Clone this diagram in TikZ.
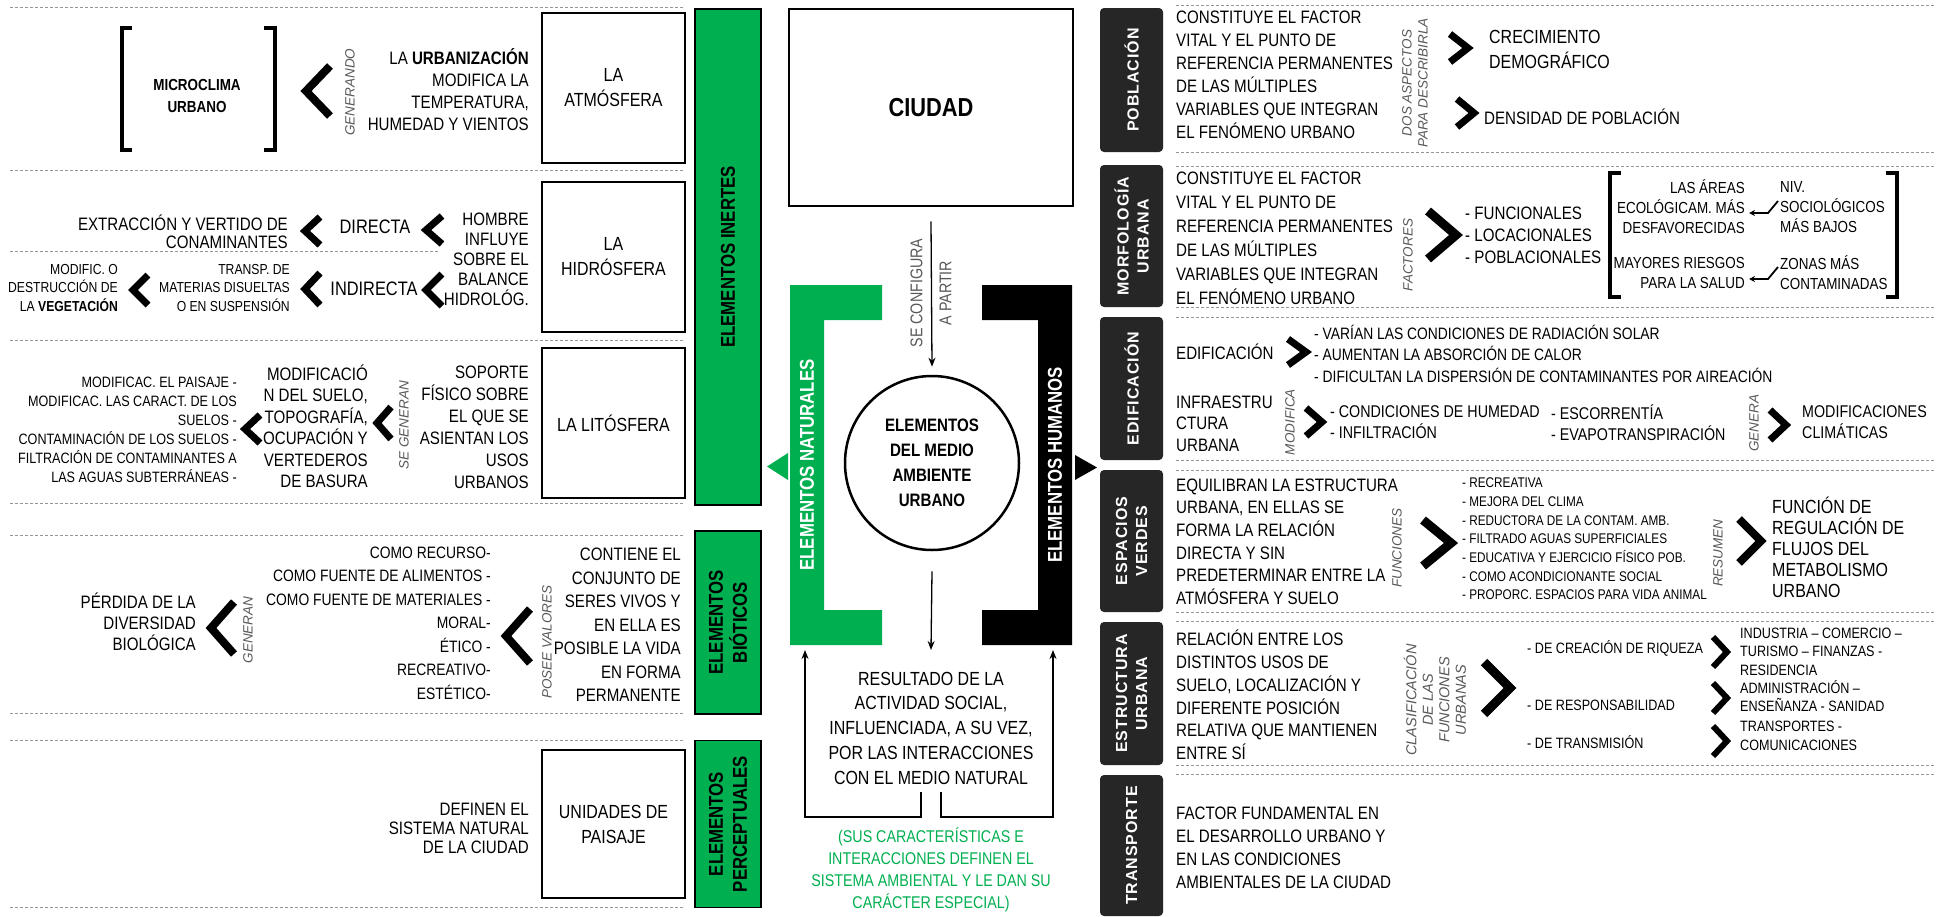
\documentclass[tikz,border=0pt]{standalone}
\usepackage{fontspec}
\setmainfont{Liberation Sans}[FakeStretch=0.84]
\newfontfamily\labfont{Liberation Sans}
\newfontfamily\barfont{Liberation Sans}[LetterSpace=6]
\usetikzlibrary{arrows.meta}
\definecolor{egreen}{RGB}{0,176,80}
\definecolor{ebar}{RGB}{38,38,38}
\definecolor{lgray}{RGB}{89,89,89}
\definecolor{dgray}{RGB}{150,150,150}
\newcommand{\fsz}[2]{\fontsize{#1}{#2}\selectfont}
\newcommand{\chevL}[5]{\draw[chev, line width=#5pt] ({#1+#3},{#2-#4}) -- (#1,#2) -- ({#1+#3},{#2+#4});}
\newcommand{\chevR}[5]{\draw[chev, line width=#5pt] ({#1-#3},{#2-#4}) -- (#1,#2) -- ({#1-#3},{#2+#4});}
\begin{document}
\begin{tikzpicture}[x=1pt,y=-1pt,
  chev/.style={line join=miter, line cap=butt},
  dline/.style={draw=dgray, dash pattern=on 3pt off 2pt, line width=1pt},
  brk/.style={line width=4pt, line join=miter},
  ebox/.style={draw=black, line width=2.5pt, fill=white, inner sep=0pt, align=center, font=\fsz{19}{25}},
  gbar/.style={rotate=90, draw=black, line width=1.5pt, fill=egreen, inner sep=0pt, align=center, font=\bfseries\fsz{20}{24}},
  bbar/.style={rotate=90, fill=ebar, rounded corners=4pt, text=white, inner sep=0pt, align=center, minimum height=63pt, font=\barfont\bfseries\fsz{16}{20}},
  lab/.style={rotate=90, font=\labfont\itshape\fsz{13.5}{16}, text=lgray, align=center, inner sep=0pt},
  txR/.style={inner sep=0pt, anchor=east, align=right},
  txL/.style={inner sep=0pt, anchor=west, align=left},
  txC/.style={inner sep=0pt, align=center},
  conn/.style={line width=1.3pt, -{Stealth[length=9pt,width=7pt]}},
  zz/.style={line width=1.8pt, -{Stealth[length=6pt,width=6pt]}}]
\useasboundingbox (0,0) rectangle (1936,916);
\fill[white] (0,0) rectangle (1936,916);

% dashed separators
\foreach \yy in {7,170,340,503,535,713,740,907} \draw[dline] (10,\yy) -- (683,\yy);
\draw[dline] (10,251) -- (440,251);
\foreach \yy in {5,152,166,307,317,460,470,612,621,765,774} \draw[dline] (1176,\yy) -- (1936,\yy);

% ---------- LEFT: atmosfera
\draw[brk] (132,28) -- (122,28) -- (122,150) -- (132,150);
\draw[brk] (264,28) -- (275,28) -- (275,150) -- (264,150);
\node[txC, font=\bfseries\fsz{16}{22}] (micro) at (197,96) {MICROCLIMA\\URBANO};
\chevL{306}{91}{24}{25}{8}
\node[lab] (gen1) at (350,92) {GENERANDO};
\node[txR, font=\fsz{18}{22}] (urb) at (529,90) {LA \textbf{URBANIZACIÓN}\\MODIFICA LA\\TEMPERATURA,\\HUMEDAD Y VIENTOS};
\node[ebox, minimum width=143pt, minimum height=150pt] (atm) at (613.5,88) {LA\\ATMÓSFERA};

% ---------- hidrosfera
\node[ebox, minimum width=143pt, minimum height=150pt] (hid) at (613.5,257) {LA\\HIDRÓSFERA};
\node[txR, font=\fsz{18}{20}] (hom) at (529,259) {HOMBRE\\INFLUYE\\SOBRE EL\\BALANCE\\HIDROLÓG.};
\chevL{426}{230}{16}{14}{7}
\node[txC, font=\fsz{19.5}{22}] (dir) at (375,227) {DIRECTA};
\chevL{305}{231}{15}{14}{7}
\node[txR, font=\fsz{18}{18}] (ext) at (288,231.5) {EXTRACCIÓN Y VERTIDO DE\\CONAMINANTES};
\chevL{426}{290}{16}{16}{7}
\node[txC, font=\fsz{19.5}{22}] (ind) at (374,289) {INDIRECTA};
\chevL{305}{289}{15}{16}{7}
\node[txR, font=\fsz{14.5}{18.5}] (tra) at (290,288) {TRANSP. DE\\MATERIAS DISUELTAS\\O EN SUSPENSIÓN};
\chevL{133}{290}{15}{15}{7}
\node[txR, font=\fsz{14.5}{18.5}] (veg) at (118,288) {MODIFIC. O\\DESTRUCCIÓN DE\\LA \textbf{VEGETACIÓN}};

% ---------- litosfera
\node[ebox, minimum width=143pt, minimum height=150pt] (lit) at (613.5,423) {LA LITÓSFERA};
\node[txR, font=\fsz{18}{22}] (sop) at (529,427.5) {SOPORTE\\FÍSICO SOBRE\\EL QUE SE\\ASIENTAN LOS\\USOS\\URBANOS};
\node[lab] (segen) at (404,425) {SE GENERAN};
\chevL{377}{423}{14}{16}{7}
\node[txR, font=\fsz{18}{21.5}] (modsu) at (368,426.5) {MODIFICACIÓ\\N DEL SUELO,\\TOPOGRAFÍA,\\OCUPACIÓN Y\\VERTEDEROS\\DE BASURA};
\chevL{245}{429}{15}{14}{7}
\node[txR, font=\fsz{15}{19}] (paisa) at (237,430) {MODIFICAC. EL PAISAJE -\\MODIFICAC. LAS CARACT. DE LOS\\SUELOS -\\CONTAMINACIÓN DE LOS SUELOS -\\FILTRACIÓN DE CONTAMINANTES A\\LAS AGUAS SUBTERRÁNEAS -};

% ---------- bioticos
\node[txR, font=\fsz{18}{23.5}] (cont) at (681,625) {CONTIENE EL\\CONJUNTO DE\\SERES VIVOS Y\\EN ELLA ES\\POSIBLE LA VIDA\\EN FORMA\\PERMANENTE};
\node[lab] (posee) at (547,642) {POSEE VALORES};
\chevL{506}{636}{24}{27}{8}
\node[txR, font=\fsz{16.5}{23.5}] (valo) at (491,623) {COMO RECURSO-\\COMO FUENTE DE ALIMENTOS -\\COMO FUENTE DE MATERIALES -\\MORAL-\\ÉTICO -\\RECREATIVO-\\ESTÉTICO-};
\node[lab] (gen2) at (248,630) {GENERAN};
\chevL{211}{628}{23}{26}{8}
\node[txR, font=\fsz{18}{21}] (perd) at (196,622) {PÉRDIDA DE LA\\DIVERSIDAD\\BIOLÓGICA};

% ---------- perceptuales
\node[ebox, minimum width=143pt, minimum height=148pt] (unid) at (613.5,824) {UNIDADES DE\\PAISAJE};
\node[txR, font=\fsz{18}{19}] (def) at (529,828) {DEFINEN EL\\SISTEMA NATURAL\\DE LA CIUDAD};

% ---------- green bars
\node[gbar, minimum width=496pt, minimum height=66pt] (inert) at (728,257) {ELEMENTOS INERTES};
\node[gbar, minimum width=183pt, minimum height=66pt] (biot) at (728,622.5) {ELEMENTOS\\BIÓTICOS};
\node[gbar, minimum width=167pt, minimum height=66pt] (perc) at (728,824) {ELEMENTOS\\PERCEPTUALES};

% ---------- CENTER
\node[ebox, minimum width=284pt, minimum height=197pt, font=\bfseries\fsz{26}{30}] (ciudad) at (931,107.5) {CIUDAD};
\node[txC, rotate=90, text=lgray, font=\fsz{17}{29}] (secon) at (931,293) {SE CONFIGURA\\A PARTIR};
\node[circle, draw, line width=2.5pt, minimum size=174pt, inner sep=0pt, font=\bfseries\fsz{18}{25}, align=center] (circ) at (932,463) {ELEMENTOS\\DEL MEDIO\\AMBIENTE\\URBANO};
\draw[conn] ([yshift=-14pt]ciudad.south) -- ([yshift=8pt]circ.north);

\fill[egreen] (790,285) -- (882,285) -- (882,320) -- (824,320) -- (824,610) -- (882,610) -- (882,645) -- (790,645) -- cycle;
\node[rotate=90, text=white, font=\bfseries\fsz{20}{24}, inner sep=0pt] (nat) at (807,465) {ELEMENTOS NATURALES};
\fill[egreen] (788,453) -- (767,466.5) -- (788,480) -- cycle;
\fill[black] (982,285) -- (1072,285) -- (1072,645) -- (982,645) -- (982,610) -- (1038,610) -- (1038,320) -- (982,320) -- cycle;
\node[rotate=90, text=white, font=\bfseries\fsz{20}{24}, inner sep=0pt] (humn) at (1055,465) {ELEMENTOS HUMANOS};
\fill[black] (1075,455) -- (1097,467.5) -- (1075,480) -- cycle;

\node[txC, font=\fsz{19}{24.75}] (res) at (931,728) {RESULTADO DE LA\\ACTIVIDAD SOCIAL,\\INFLUENCIADA, A SU VEZ,\\POR LAS INTERACCIONES\\CON EL MEDIO NATURAL};
\coordinate (resin) at (931,650);
\draw[conn] ([yshift=-20pt]circ.south) -- (resin);
\coordinate (rl) at (921,792); \coordinate (rr) at (941,792);
\coordinate (nb) at (805,650); \coordinate (hb) at (1053,650);
\draw[conn] (rl) -- (921,817) -| (nb);
\draw[conn] (rr) -- (941,817) -| (hb);
\node[txC, text=egreen, font=\fsz{17}{22}] (sus) at (931,870) {(SUS CARACTERÍSTICAS E\\INTERACCIONES DEFINEN EL\\SISTEMA AMBIENTAL Y LE DAN SU\\CARÁCTER ESPECIAL)};

% ---------- RIGHT bars
\node[bbar, minimum width=144pt] (pob) at (1131.5,80) {POBLACIÓN};
\node[bbar, minimum width=142pt] (mor) at (1131.5,236) {MORFOLOGÍA\\URBANA};
\node[bbar, minimum width=143pt] (edi) at (1131.5,388.5) {EDIFICACIÓN};
\node[bbar, minimum width=142pt] (esp) at (1131.5,541) {ESPACIOS\\VERDES};
\node[bbar, minimum width=143pt] (est) at (1131.5,693.5) {ESTRUCTURA\\URBANA};
\node[bbar, minimum width=141pt] (trp) at (1131.5,845.5) {TRANSPORTE};

% R1 poblacion
\node[txL, font=\fsz{18}{23}] (pobt) at (1176,74.5) {CONSTITUYE EL FACTOR\\VITAL Y EL PUNTO DE\\REFERENCIA PERMANENTES\\DE LAS MÚLTIPLES\\VARIABLES QUE INTEGRAN\\EL FENÓMENO URBANO};
\node[lab] (dos) at (1415,83) {DOS ASPECTOS\\PARA DESCRIBIRLA};
\chevR{1468}{48}{18}{14}{7}
\node[txL, font=\fsz{19}{25}] (crec) at (1489,49.5) {CRECIMIENTO\\DEMOGRÁFICO};
\chevR{1474}{113}{17}{14}{7}
\node[txL, font=\fsz{18}{25}] (dens) at (1484,117) {DENSIDAD DE POBLACIÓN};

% R2 morfologia
\node[txL, font=\fsz{18}{24}] (mort) at (1176,238) {CONSTITUYE EL FACTOR\\VITAL Y EL PUNTO DE\\REFERENCIA PERMANENTES\\DE LAS MÚLTIPLES\\VARIABLES QUE INTEGRAN\\EL FENÓMENO URBANO};
\node[lab] (fac) at (1408,255) {FACTORES};
\chevR{1456}{235}{28}{24}{9}
\node[txL, font=\fsz{18}{22}] (facl) at (1465,235) {- FUNCIONALES\\- LOCACIONALES\\- POBLACIONALES};
\draw[brk] (1621,173) -- (1610,173) -- (1610,297) -- (1621,297);
\draw[brk] (1886,173) -- (1897,173) -- (1897,297) -- (1886,297);
\node[txR, font=\fsz{16}{20}] (are) at (1745,207) {LAS ÁREAS\\ECOLÓGICAM. MÁS\\DESFAVORECIDAS};
\node[txL, font=\fsz{16}{20}] (niv) at (1780,207) {NIV.\\SOCIOLÓGICOS\\MÁS BAJOS};
\draw[zz] ([shift={(-2pt,6pt)}]niv.west) -- ([shift={(-12pt,-6pt)}]niv.west) -- ([shift={(4pt,-6pt)}]are.east);
\node[txR, font=\fsz{16}{20}] (may) at (1745,273) {MAYORES RIESGOS\\PARA LA SALUD};
\node[txL, font=\fsz{16}{20}] (zon) at (1780,273) {ZONAS MÁS\\CONTAMINADAS};
\draw[zz] ([shift={(-2pt,6pt)}]zon.west) -- ([shift={(-12pt,-6pt)}]zon.west) -- ([shift={(4pt,-6pt)}]may.east);

% R3 edificacion
\node[txL, font=\fsz{18}{22}] (edit) at (1176,352) {EDIFICACIÓN};
\chevR{1306}{352}{18}{13}{7}
\node[txL, font=\fsz{16.5}{21.5}] (edil) at (1314,353.5) {- VARÍAN LAS CONDICIONES DE RADIACIÓN SOLAR\\- AUMENTAN LA ABSORCIÓN DE CALOR\\- DIFICULTAN LA DISPERSIÓN DE CONTAMINANTES POR AIREACIÓN};
\node[txL, font=\fsz{18}{21.5}] (inf) at (1176,423.5) {INFRAESTRU\\CTURA\\URBANA};
\node[lab] (modi) at (1290,422) {MODIFICA};
\chevR{1322}{422}{16}{14}{7}
\node[txL, font=\fsz{17}{21}] (humed) at (1330,422.5) {- CONDICIONES DE HUMEDAD\\- INFILTRACIÓN};
\node[txL, font=\fsz{17}{21}] (esc) at (1551,423) {- ESCORRENTÍA\\- EVAPOTRANSPIRACIÓN};
\node[lab] (gen3) at (1754,423) {GENERA};
\chevR{1786}{425}{16}{15}{7}
\node[txL, font=\fsz{17}{21}] (modc) at (1802,422.5) {MODIFICACIONES\\CLIMÁTICAS};

% R4 espacios verdes
\node[txL, font=\fsz{18}{22.6}] (espt) at (1176,541.5) {EQUILIBRAN LA ESTRUCTURA\\URBANA, EN ELLAS SE\\FORMA LA RELACIÓN\\DIRECTA Y SIN\\PREDETERMINAR ENTRE LA\\ATMÓSFERA Y SUELO};
\node[lab] (fun) at (1397,548) {FUNCIONES};
\chevR{1451}{543}{28}{23}{9}
\node[txL, font=\fsz{14}{18.7}] (funl) at (1462,539) {- RECREATIVA\\- MEJORA DEL CLIMA\\- REDUCTORA DE LA CONTAM. AMB.\\- FILTRADO AGUAS SUPERFICIALES\\- EDUCATIVA Y EJERCICIO FÍSICO POB.\\- COMO ACONDICIONANTE SOCIAL\\- PROPORC. ESPACIOS PARA VIDA ANIMAL};
\node[lab] (resu) at (1718,553) {RESUMEN};
\chevR{1761}{541}{22}{22}{8}
\node[txL, font=\fsz{19}{21}] (func) at (1772,547.5) {FUNCIÓN DE\\REGULACIÓN DE\\FLUJOS DEL\\METABOLISMO\\URBANO};

% R5 estructura urbana
\node[txL, font=\fsz{18}{22.8}] (estt) at (1176,695) {RELACIÓN ENTRE LOS\\DISTINTOS USOS DE\\SUELO, LOCALIZACIÓN Y\\DIFERENTE POSICIÓN\\RELATIVA QUE MANTIENEN\\ENTRE SÍ};
\node[lab, font=\labfont\itshape\fsz{14.5}{16.5}] (clas) at (1435,700) {CLASIFICACIÓN\\DE LAS\\FUNCIONES\\URBANAS};
\chevR{1510}{688}{26}{26}{9}
\node[txL, font=\fsz{15}{18}] (cre) at (1527,648) {- DE CREACIÓN DE RIQUEZA};
\node[txL, font=\fsz{15}{18}] (resp) at (1527,705) {- DE RESPONSABILIDAD};
\node[txL, font=\fsz{15}{18}] (trans) at (1527,742) {- DE TRANSMISIÓN};
\chevR{1727}{652}{14}{15}{6}
\chevR{1727}{698}{14}{15}{6}
\chevR{1727}{741}{14}{15}{6}
\node[txL, font=\fsz{15}{18.5}] (indu) at (1740,651.5) {INDUSTRIA – COMERCIO –\\TURISMO – FINANZAS -\\RESIDENCIA};
\node[txL, font=\fsz{15}{18.5}] (adm) at (1740,696) {ADMINISTRACIÓN –\\ENSEÑANZA - SANIDAD};
\node[txL, font=\fsz{15}{18.5}] (tra2) at (1740,736) {TRANSPORTES -\\COMUNICACIONES};

% R6 transporte
\node[txL, font=\fsz{18}{23}] (trpt) at (1176,847.5) {FACTOR FUNDAMENTAL EN\\EL DESARROLLO URBANO Y\\EN LAS CONDICIONES\\AMBIENTALES DE LA CIUDAD};
\end{tikzpicture}
\end{document}
